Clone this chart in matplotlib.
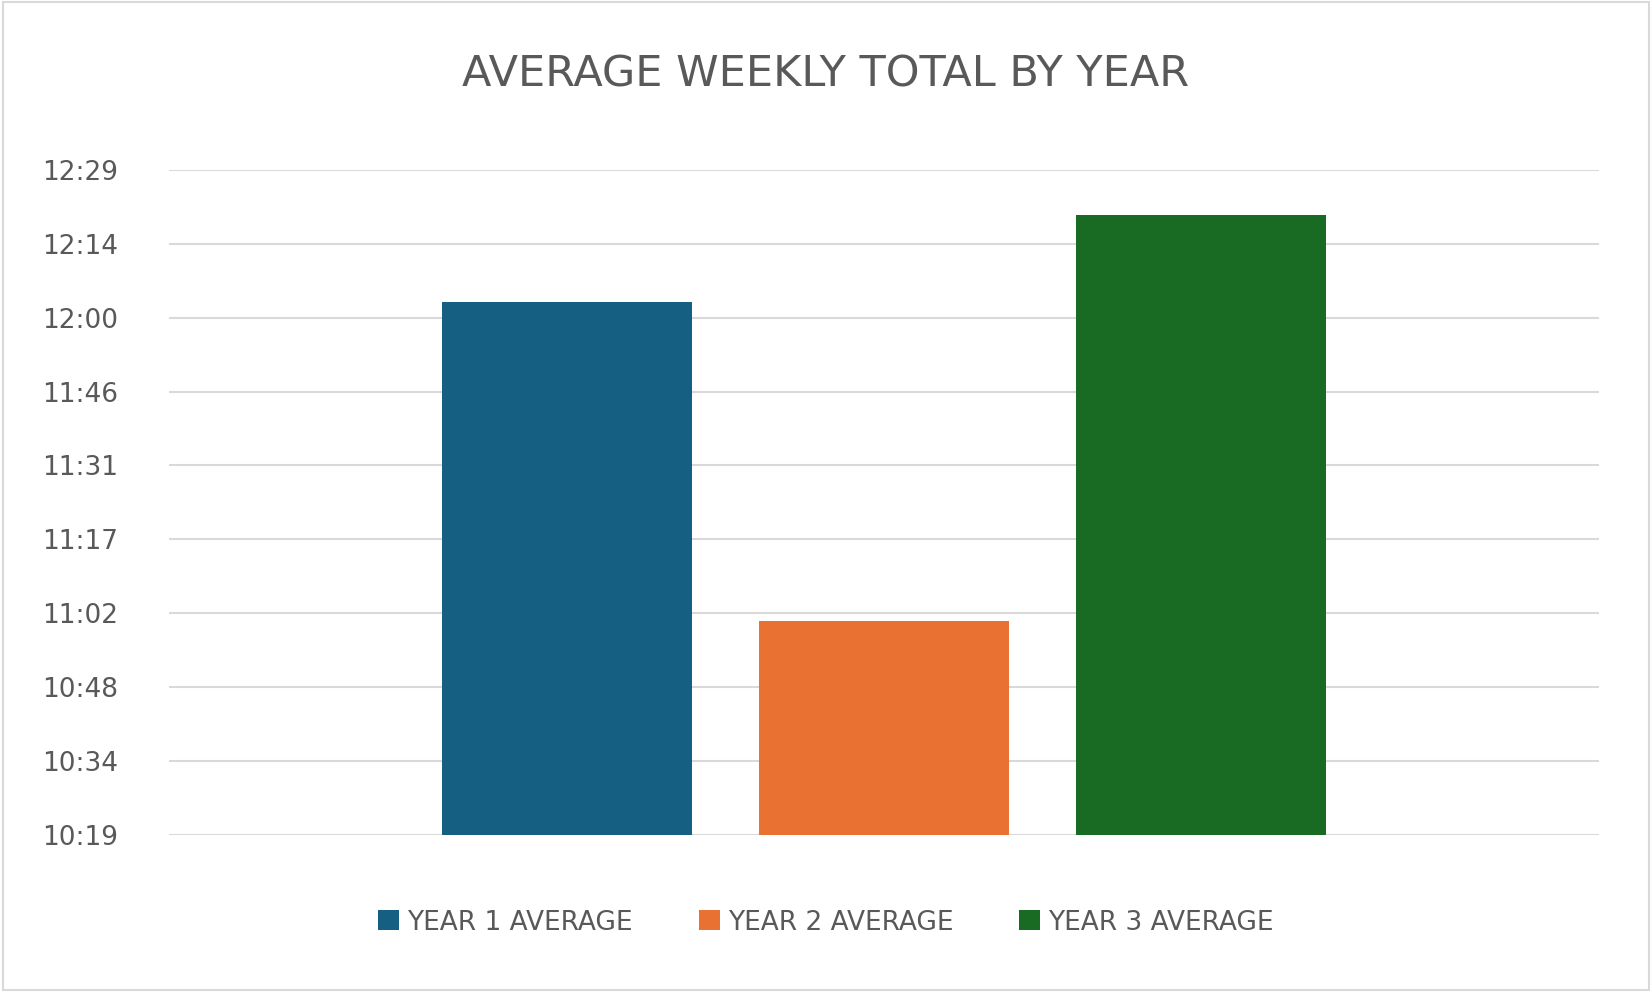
import matplotlib
matplotlib.use("Agg")
import matplotlib.pyplot as plt
from matplotlib.ticker import FuncFormatter, FixedLocator
from matplotlib.patches import Rectangle

series = ["YEAR 1 AVERAGE", "YEAR 2 AVERAGE", "YEAR 3 AVERAGE"]
values_hhmm = ["12:03", "11:01", "12:20"]
colors = ["#156082", "#E97132", "#196B24"]
tick_days = [0.43, 0.44, 0.45, 0.46, 0.47, 0.48, 0.49, 0.50, 0.51, 0.52]

def to_min(s):
    h, m = s.split(":")
    return int(h) * 60 + int(m)

values = [to_min(v) for v in values_hhmm]
ticks = [d * 1440 for d in tick_days]

def fmt(v, pos=None):
    tot = int(round(v))
    return f"{tot // 60}:{tot % 60:02d}"

fig = plt.figure(figsize=(16.52, 9.92), dpi=100)
fig.patches.append(Rectangle((0.002, 0.002), 0.996, 0.996, transform=fig.transFigure,
                             fill=False, edgecolor="#D9D9D9", linewidth=1.5))
ax = fig.add_axes([0.102, 0.158, 0.866, 0.671])
xs = [-1, 0, 1]
ymin = ticks[0]
for x, v, c, s in zip(xs, values, colors, series):
    ax.bar(x, v - ymin, bottom=ymin, width=0.787, color=c, label=s, zorder=3)
ax.set_xlim(-2.256, 2.256)
ax.set_ylim(ticks[0], ticks[-1])
ax.yaxis.set_major_locator(FixedLocator(ticks))
ax.yaxis.set_major_formatter(FuncFormatter(fmt))
ax.grid(axis="y", color="#D9D9D9", linewidth=1.5, zorder=0)
ax.set_xticks([])
for sp in ax.spines.values():
    sp.set_visible(False)
ax.tick_params(axis="y", length=0, labelsize=19, labelcolor="#595959", pad=36)
fig.text(0.5, 0.925, "AVERAGE WEEKLY TOTAL BY YEAR", ha="center", va="center",
         fontsize=31, color="#595959")
fig.legend(loc="center", bbox_to_anchor=(0.5, 0.07), ncol=3, frameon=False,
           fontsize=19, labelcolor="#595959", handlelength=0.8, handleheight=0.8,
           handletextpad=0.3, columnspacing=2.5)
fig.savefig("out.png", dpi=100)
